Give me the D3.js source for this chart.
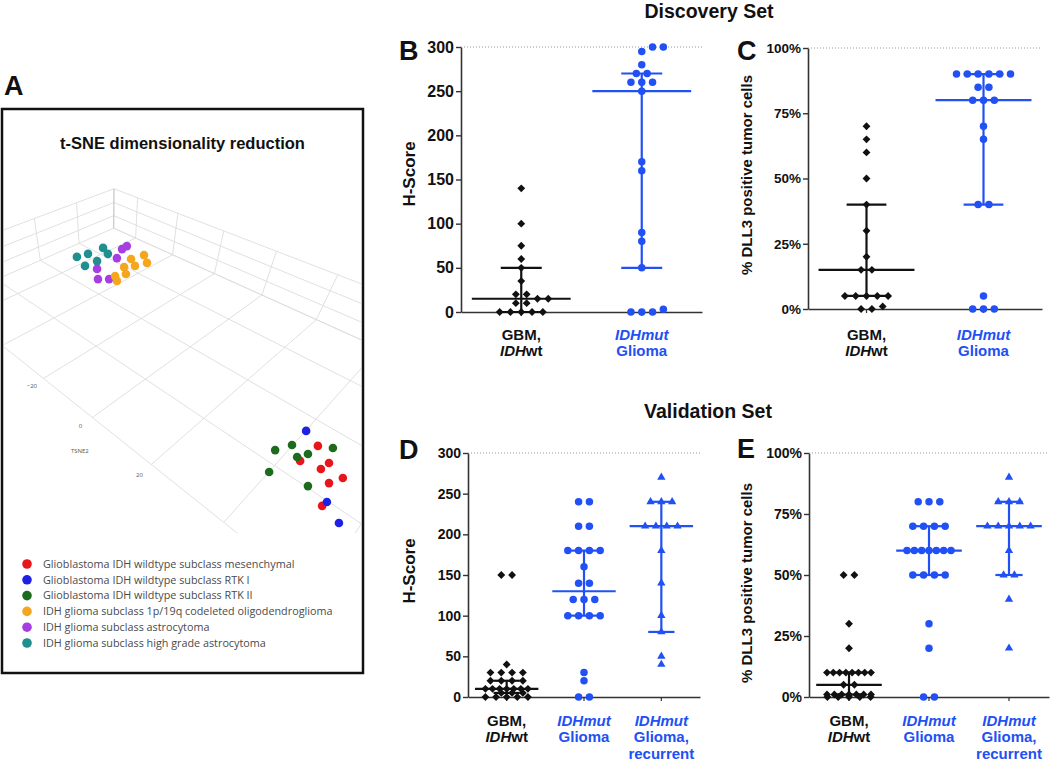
<!DOCTYPE html>
<html>
<head>
<meta charset="utf-8">
<title>DLL3 figure</title>
<script src="https://d3js.org/d3.v7.min.js"></script>
<style>
  body { margin: 0; background: #fff; }
  svg { font-family: "Liberation Sans", Arial, Helvetica, sans-serif; }
</style>
</head>
<body>
<script>
// ---------- data ----------
// t-SNE scatter (projected plot units)
const tsneClasses = [
  'Glioblastoma IDH wildtype subclass mesenchymal',
  'Glioblastoma IDH wildtype subclass RTK I',
  'Glioblastoma IDH wildtype subclass RTK II',
  'IDH glioma subclass 1p/19q codeleted oligodendroglioma',
  'IDH glioma subclass astrocytoma',
  'IDH glioma subclass high grade astrocytoma'
]
const tsneColors = ['#e8161b', '#1f20e6', '#1d6b1d', '#f4a71e', '#a63ee2', '#1f8f8f']
const tsneMesenchymal = [[45.0,-18.3],[39.1,-23.3],[48.7,-24.0],[46.0,-26.0],[53.3,-29.0],[48.7,-30.7],[46.4,-38.3]]
const tsneRTK1 = [[41.1,-13.3],[48.0,-37.0],[52.0,-44.0]]
const tsneRTK2 = [[36.4,-18.0],[30.8,-19.7],[50.0,-19.0],[41.7,-21.0],[38.1,-22.0],[28.8,-27.0],[41.7,-31.7]]
const tsneCodel = [[-12.8,45.3],[-11.8,42.7],[-17.1,44.0],[-15.8,41.7],[-19.4,41.3],[-18.8,39.0],[-22.4,38.3],[-21.8,36.7]]
const tsneAstro = [[-20.1,47.3],[-18.5,48.3],[-21.8,44.3],[-28.4,40.7],[-28.1,37.3],[-24.4,37.3]]
const tsneHighGrade = [[-35.1,44.7],[-31.4,45.7],[-26.4,47.7],[-24.8,45.7],[-28.4,43.3],[-32.4,41.7]]
// 3D grid ticks of the t-SNE scene
const tsne1Ticks = [-40, -20, 0, 20, 40]
const tsne2Ticks = [-60, -40, -20, 0, 20, 40, 60, 80]
const tsne3Ticks = [-15, -5, 5, 15]

// Discovery set
const discHScoreGBM = [140,100,75,60,50,35,20,20,15,15,10,10,0,0,0,0,0]
const discHScoreIDH = [300,300,295,280,270,270,260,260,260,250,170,160,90,80,50,3,0,0,0]
const discPctGBM = [70,65,60,50,40,30,20,15,15,5,5,5,5,5,1,0,0]
const discPctIDH = [90,90,90,90,90,90,85,85,80,80,80,70,65,40,40,5,0,0,0]
// [median, q1, q3]
const discHScoreStats = [[15,0,50],[250,50,270]]
const discPctStats = [[15,5,40],[80,40,90]]

// Validation set
const valHScoreGBM = [150,150,40,30,30,30,30,20,20,20,20,10,10,10,10,10,10,10,5,5,5,0,0,0,0,0]
const valHScoreIDH = [240,240,210,210,180,180,180,180,160,140,140,120,120,120,100,100,100,100,30,20,0,0]
const valHScoreRec = [270,240,240,240,210,210,210,210,180,140,100,80,50,40]
const valPctGBM = [50,50,30,20,10,10,10,10,10,10,10,10,5,5,1,1,1,1,1,1,1,0,0,0,0,0]
const valPctIDH = [80,80,80,70,70,70,70,60,60,60,60,60,60,60,50,50,50,50,30,20,0,0]
const valPctRec = [90,80,80,80,70,70,70,70,70,60,50,50,40,20]
const valHScoreStats = [[10,5,20],[130,100,180],[210,80,240]]
const valPctStats = [[5,1,10],[60,50,70],[70,50,80]]

const hTicks = [0,50,100,150,200,250,300]
const pctTicks = [0,25,50,75,100]

const catGBM = [[{t:'GBM,'}], [{t:'IDH', i:true}, {t:'wt'}]]
const catIDH = [[{t:'IDHmut', i:true}], [{t:'Glioma'}]]
const catRec = [[{t:'IDHmut', i:true}], [{t:'Glioma,'}], [{t:'recurrent'}]]

// ---------- drawing ----------
const W = 1050, H = 761
const black = '#111', blue = '#2150f4'
const svg = d3.select('body').append('svg').attr('width', W).attr('height', H)

function text(x, y, s, size, opts = {}) {
  return svg.append('text').attr('x', x).attr('y', y).text(s)
    .attr('font-size', size).attr('font-weight', opts.weight || 'bold')
    .attr('fill', opts.fill || black).attr('text-anchor', opts.anchor || 'start')
}

// ---- panel A ----
text(4, 95, 'A', 27)
svg.append('rect').attr('x', 2).attr('y', 109).attr('width', 361).attr('height', 564)
  .attr('fill', 'none').attr('stroke', black).attr('stroke-width', 2.5)
text(182.5, 149, 't-SNE dimensionality reduction', 16.5, {anchor: 'middle'})

svg.append('clipPath').attr('id', 'sceneClip').append('rect')
  .attr('x', 4).attr('y', 111).attr('width', 357).attr('height', 422)
const scene = svg.append('g').attr('clip-path', 'url(#sceneClip)')

// perspective camera for the faint 3D grid
const cam = {theta: 45.6, phi: 49.7, dist: 0.755, focal: 390, cx: 110, cy: 420}
const th = cam.theta * Math.PI / 180, ph = cam.phi * Math.PI / 180
const fw = [-Math.cos(ph)*Math.cos(th), -Math.cos(ph)*Math.sin(th), -Math.sin(ph)]
const rt = [-Math.sin(th), Math.cos(th), 0]
const up = [-Math.cos(th)*Math.sin(ph), -Math.sin(th)*Math.sin(ph), Math.cos(ph)]
const eye = fw.map(v => -v * cam.dist)
const world = (t1, t2, t3) => [-0.56 - 0.011*t1, -0.193 + 0.011*t2, -0.165 + 0.0057*t3]
function project(p) {
  const d = [p[0]-eye[0], p[1]-eye[1], p[2]-eye[2]]
  const dot = a => a[0]*d[0] + a[1]*d[1] + a[2]*d[2]
  const w = dot(fw)
  return [cam.cx + cam.focal*dot(rt)/w, cam.cy - cam.focal*dot(up)/w]
}
const t1R = [-40, 40], t2R = [-73, 99], t3R = [-15, 15]
const seg = (a, b, c) => {
  const p = project(world(...a)), q = project(world(...b))
  scene.append('line').attr('x1', p[0]).attr('y1', p[1]).attr('x2', q[0]).attr('y2', q[1])
    .attr('stroke', c || '#dcdcdc').attr('stroke-width', 0.9)
}
// floor
tsne2Ticks.forEach(t => seg([t1R[0], t, t3R[0]], [t1R[1], t, t3R[0]]))
tsne1Ticks.forEach(t => seg([t, t2R[0], t3R[0]], [t, t2R[1], t3R[0]]))
// back walls
tsne2Ticks.forEach(t => seg([t1R[1], t, t3R[0]], [t1R[1], t, t3R[1]]))
tsne3Ticks.forEach(t => seg([t1R[1], t2R[0], t], [t1R[1], t2R[1], t]))
tsne1Ticks.forEach(t => seg([t, t2R[0], t3R[0]], [t, t2R[0], t3R[1]]))
tsne3Ticks.forEach(t => seg([t1R[0], t2R[0], t], [t1R[1], t2R[0], t]))
seg([t1R[1], t2R[0], t3R[0]], [t1R[1], t2R[0], t3R[1]], '#c4c4c4')
// TSNE2 tick labels (only those that fall inside the scene)
tsne2Ticks.forEach(t => {
  const p = project(world(-44, t, t3R[0]))
  if (p[0] < 15 || p[1] > 536) return
  scene.append('text').attr('x', p[0]).attr('y', p[1]).attr('dy', '0.35em')
    .attr('text-anchor', 'middle').attr('font-size', 6).attr('fill', '#555')
    .attr('font-family', '"Open Sans", sans-serif').text(t < 0 ? '\u2212' + (-t) : t)
})
const tp = project(world(-46, 2, t3R[0]))
scene.append('text').attr('x', tp[0]).attr('y', tp[1] + 18).attr('text-anchor', 'middle')
  .attr('font-size', 6).attr('fill', '#555').attr('font-family', '"Open Sans", sans-serif').text('TSNE2')

// scatter points
const tx = d3.scaleLinear().domain([-60, 60]).range([2, 363])
const ty = d3.scaleLinear().domain([-94, 94]).range([673, 109])
const tsneSets = [tsneMesenchymal, tsneRTK1, tsneRTK2, tsneCodel, tsneAstro, tsneHighGrade]
const drawOrder = [0, 2, 1, 5, 4, 3]
drawOrder.forEach(ci => {
  scene.selectAll(null).data(tsneSets[ci]).enter().append('circle')
    .attr('cx', d => tx(d[0])).attr('cy', d => ty(d[1])).attr('r', 4.3)
    .attr('fill', tsneColors[ci])
})

// legend
const ly = d3.scalePoint().domain(tsneClasses).range([564, 643])
tsneClasses.forEach((c, i) => {
  svg.append('circle').attr('cx', 27).attr('cy', ly(c)).attr('r', 4.8).attr('fill', tsneColors[i])
  svg.append('text').attr('x', 43).attr('y', ly(c)).attr('dy', '0.35em').text(c)
    .attr('font-size', 10.8).attr('fill', '#4a4a4a').attr('font-family', '"Open Sans", sans-serif')
})

// ---- dot plots ----
function swarm(vals, y, cx, o) {
  const placed = []
  const groups = d3.groups(vals, v => v).sort((a, b) => a[0] - b[0])
  groups.forEach(([v, arr]) => {
    const k = arr.length, py = y(v)
    const step = k > 1 ? Math.min(o.step, o.maxW / (k - 1)) : 0
    const base = d3.range(k).map(i => (i - (k - 1) / 2) * step)
    const half = (k - 1) / 2 * step
    const shifts = [0, 0.5, -0.5, 1, -1, 1.5, -1.5, 2, -2, 2.5, -2.5, 3, -3]
    let best = null, bestD = -1
    for (const s of shifts) {
      if (half + Math.abs(s * o.step) > o.maxW / 2 + o.step) continue
      const xs = base.map(b => cx + b + s * o.step)
      let dmin = Infinity
      xs.forEach(px => placed.forEach(p => { dmin = Math.min(dmin, Math.hypot(px - p[0], py - p[1])) }))
      if (dmin >= o.minD) { best = xs; break }
      if (dmin > bestD + 0.5) { bestD = dmin; best = xs }
    }
    best.forEach(px => placed.push([px, py]))
  })
  return placed
}

const shapes = {
  circle: d3.symbol(d3.symbolCircle, 44)(),
  diamond: d3.symbol(d3.symbolSquare, 31)(),
  triangle: d3.symbol(d3.symbolTriangle, 30)()
}

function dotPlot(cfg) {
  const g = svg.append('g')
  const y = d3.scaleLinear().domain([0, cfg.max]).range([cfg.y1, cfg.y0])
  const x = d3.scaleBand().domain(d3.range(cfg.groups.length)).range([cfg.x0, cfg.x1])
  const bw = x.bandwidth()

  g.append('line').attr('x1', cfg.x0).attr('x2', cfg.x1).attr('y1', y(cfg.max)).attr('y2', y(cfg.max))
    .attr('stroke', '#999').attr('stroke-width', 1).attr('stroke-dasharray', '1,2')

  const ya = g.append('g').attr('transform', `translate(${cfg.x0},0)`)
    .call(d3.axisLeft(y).tickValues(cfg.ticks).tickFormat(cfg.fmt).tickSize(5).tickSizeOuter(0))
  ya.select('.domain').attr('stroke', '#333').attr('stroke-width', 1.6)
  ya.selectAll('.tick line').attr('stroke', '#333').attr('stroke-width', 1.4)
  ya.selectAll('.tick text').attr('x', -7).attr('font-size', cfg.tickFont).attr('font-weight', 'bold')
    .attr('fill', black).attr('font-family', '"Liberation Sans", Arial, sans-serif')

  const xa = g.append('g').attr('transform', `translate(0,${cfg.y1})`)
    .call(d3.axisBottom(x).tickSize(4).tickSizeOuter(0).tickFormat(() => ''))
  xa.select('.domain').attr('stroke', '#333').attr('stroke-width', 1.6)
  xa.selectAll('.tick line').attr('stroke', '#333').attr('stroke-width', 1.2)

  cfg.groups.forEach((grp, i) => {
    const cx = x(i) + bw / 2
    const col = grp.color
    const [med, q1, q3] = grp.stats
    const medW = bw * 0.41, capW = bw * 0.17
    const ln = (x1, y1, x2, y2) => g.append('line').attr('x1', x1).attr('y1', y1).attr('x2', x2).attr('y2', y2)
      .attr('stroke', col).attr('stroke-width', 2.2)
    ln(cx, y(q1), cx, y(q3))
    ln(cx - capW, y(q1), cx + capW, y(q1))
    ln(cx - capW, y(q3), cx + capW, y(q3))
    ln(cx - medW, y(med), cx + medW, y(med))

    const pts = swarm(grp.vals, y, cx, {step: 10.8, maxW: bw * 0.55, minD: 7.5})
    g.selectAll(null).data(pts).enter().append('path')
      .attr('d', shapes[grp.shape])
      .attr('transform', d => `translate(${d[0]},${d[1]})` + (grp.shape === 'diamond' ? ' rotate(45)' : ''))
      .attr('fill', col)

    grp.label.forEach((segs, li) => {
      const t = g.append('text').attr('x', cx).attr('y', cfg.labelY + li * 16.3).attr('text-anchor', 'middle')
        .attr('font-size', 15).attr('font-weight', 'bold').attr('fill', col)
      segs.forEach(s => t.append('tspan').text(s.t).attr('font-style', s.i ? 'italic' : 'normal'))
    })
  })

  text(cfg.ylabelX, cfg.ylabelY, cfg.ylabel, cfg.ylabelFont, {anchor: 'middle'})
    .attr('transform', `rotate(-90,${cfg.ylabelX},${cfg.ylabelY})`)
  text(cfg.letterX, cfg.letterY, cfg.letter, 27)
}

const pctFmt = d => d + '%'
text(709, 18, 'Discovery Set', 19.5, {anchor: 'middle'})
text(708, 418, 'Validation Set', 19.5, {anchor: 'middle'})

dotPlot({letter: 'B', letterX: 399, letterY: 60, x0: 461, x1: 702, y0: 47, y1: 312, max: 300,
  ticks: hTicks, fmt: d => d, tickFont: 16, ylabel: 'H-Score', ylabelX: 415, ylabelY: 174, ylabelFont: 17,
  labelY: 340, groups: [
    {vals: discHScoreGBM, stats: discHScoreStats[0], shape: 'diamond', color: black, label: catGBM},
    {vals: discHScoreIDH, stats: discHScoreStats[1], shape: 'circle', color: blue, label: catIDH}]})

dotPlot({letter: 'C', letterX: 737, letterY: 60, x0: 808, x1: 1042, y0: 48, y1: 309, max: 100,
  ticks: pctTicks, fmt: pctFmt, tickFont: 13.5, ylabel: '% DLL3 positive tumor cells', ylabelX: 752, ylabelY: 175, ylabelFont: 15,
  labelY: 340, groups: [
    {vals: discPctGBM, stats: discPctStats[0], shape: 'diamond', color: black, label: catGBM},
    {vals: discPctIDH, stats: discPctStats[1], shape: 'circle', color: blue, label: catIDH}]})

dotPlot({letter: 'D', letterX: 399, letterY: 459, x0: 468, x1: 700, y0: 453, y1: 697, max: 300,
  ticks: hTicks, fmt: d => d, tickFont: 14, ylabel: 'H-Score', ylabelX: 415, ylabelY: 571, ylabelFont: 17,
  labelY: 726, groups: [
    {vals: valHScoreGBM, stats: valHScoreStats[0], shape: 'diamond', color: black, label: catGBM},
    {vals: valHScoreIDH, stats: valHScoreStats[1], shape: 'circle', color: blue, label: catIDH},
    {vals: valHScoreRec, stats: valHScoreStats[2], shape: 'triangle', color: blue, label: catRec}]})

dotPlot({letter: 'E', letterX: 737, letterY: 458, x0: 809, x1: 1049, y0: 453, y1: 697, max: 100,
  ticks: pctTicks, fmt: pctFmt, tickFont: 14, ylabel: '% DLL3 positive tumor cells', ylabelX: 752, ylabelY: 583, ylabelFont: 15,
  labelY: 726, groups: [
    {vals: valPctGBM, stats: valPctStats[0], shape: 'diamond', color: black, label: catGBM},
    {vals: valPctIDH, stats: valPctStats[1], shape: 'circle', color: blue, label: catIDH},
    {vals: valPctRec, stats: valPctStats[2], shape: 'triangle', color: blue, label: catRec}]})
</script>
</body>
</html>
